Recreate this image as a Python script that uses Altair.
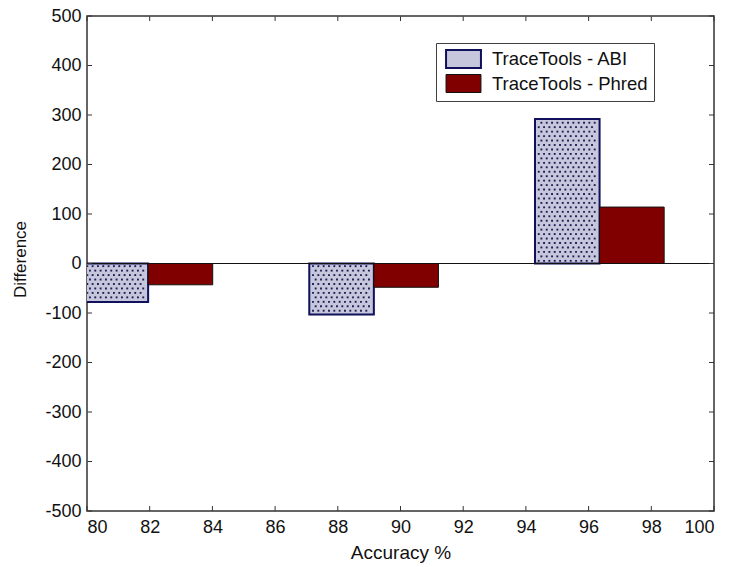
import altair as alt
import pandas as pd

# ---- data ----
accuracy = [81.95, 89.15, 96.35]          # group centres (Accuracy %)
abi_diff = [-78, -103, 292]               # TraceTools - ABI
phred_diff = [-43, -48, 114]              # TraceTools - Phred
series = ["TraceTools - ABI", "TraceTools - Phred"]
x_ticks = [80, 82, 84, 86, 88, 90, 92, 94, 96, 98, 100]
y_ticks = [-500, -400, -300, -200, -100, 0, 100, 200, 300, 400, 500]
bar_width = 2.06                          # width of one bar in Accuracy units

W, H = 627, 495
FONT = "Liberation Sans"
TICK = 5

rows = []
for acc, a, p in zip(accuracy, abi_diff, phred_diff):
    rows.append(dict(series=series[0], x0=acc - bar_width, x1=acc, value=a))
    rows.append(dict(series=series[1], x0=acc, x1=acc + bar_width, value=p))
bars = pd.DataFrame(rows)

# dotted hatch texture for the ABI bars (MATLAB pattern fill)
dx, dy = 0.17, 9.0
tex = []
for r in bars[bars.series == series[0]].itertuples():
    sign = 1 if r.value > 0 else -1
    n = int((abs(r.value) - dy * 0.4) / dy)
    for i in range(n):
        yv = sign * dy * (i + 0.6)
        xv = r.x0 + dx * (0.7 if i % 2 == 0 else 1.2)
        while xv < r.x1 - dx * 0.45:
            tex.append(dict(x0=xv, value=yv))
            xv += dx
texture = pd.DataFrame(tex)

xs = alt.Scale(domain=[80, 100], nice=False, zero=False)
ys = alt.Scale(domain=[-500, 500], nice=False)

x_axis = alt.Axis(
    values=x_ticks, labelExpr="'' + datum.value", tickSize=0, domain=False,
    grid=False, labelPadding=7, title="Accuracy %", titleFontSize=19,
    titleX=W / 2, titleY=47, titleBaseline="alphabetic", titleAlign="center")
y_axis = alt.Axis(
    values=y_ticks, labelExpr="'' + datum.value", tickSize=0, domain=False,
    grid=False, labelPadding=6, title="Difference",
    titleX=-62, titleY=243, titleAngle=270, titleBaseline="alphabetic",
    titleAlign="center", titleFontSize=17)

legend = alt.Legend(
    title=None, orient="none", legendX=349, legendY=27,
    strokeColor="#404040", fillColor="white", padding=6,
    symbolType="M-1.94,-1H1.94V1H-1.94Z", symbolSize=324,
    symbolStrokeWidth=1.5, symbolOffset=11.5, labelOffset=18.5,
    labelFont=FONT, labelFontSize=18.5, labelColor="#111",
    labelExpr="datum.label + '\u00a0\u00a0\u00a0\u00a0'",
    rowPadding=0,
)

bar_layer = alt.Chart(bars).mark_rect(clip=True).encode(
    x=alt.X("x0:Q", scale=xs, axis=x_axis, title="Accuracy %"),
    x2="x1:Q",
    y=alt.Y("value:Q", scale=ys, axis=y_axis, title="Difference"),
    y2=alt.datum(0),
    fill=alt.Fill("series:N", scale=alt.Scale(domain=series, range=["#c6c6dc", "#800000"]), legend=legend),
    stroke=alt.Stroke("series:N", scale=alt.Scale(domain=series, range=["#10105c", "#111111"]), legend=legend),
    strokeWidth=alt.StrokeWidth("series:N", scale=alt.Scale(domain=series, range=[2, 1]), legend=None),
)

dot_layer = alt.Chart(texture).mark_square(size=3.5, color="#1c1c50", opacity=1, clip=True).encode(
    x=alt.X("x0:Q", scale=xs, title="Accuracy %"),
    y=alt.Y("value:Q", scale=ys, title="Difference"),
)

zero_layer = alt.Chart(pd.DataFrame({"value": [0]})).mark_rule(color="#111", strokeWidth=1.2).encode(
    y=alt.Y("value:Q", scale=ys, title="Difference")
)

# inward MATLAB-style tick marks on all four sides
xt = pd.DataFrame({"x0": x_ticks})
yt = pd.DataFrame({"value": y_ticks})
tick_style = dict(color="#333", strokeWidth=1)
t_bottom = alt.Chart(xt).mark_rule(**tick_style).encode(
    x=alt.X("x0:Q", scale=xs, title="Accuracy %"), y=alt.value(H), y2=alt.value(H - TICK))
t_top = alt.Chart(xt).mark_rule(**tick_style).encode(
    x=alt.X("x0:Q", scale=xs, title="Accuracy %"), y=alt.value(0.5), y2=alt.value(TICK))
t_left = alt.Chart(yt).mark_rule(**tick_style).encode(
    y=alt.Y("value:Q", scale=ys, title="Difference"), x=alt.value(0.5), x2=alt.value(TICK))
t_right = alt.Chart(yt).mark_rule(**tick_style).encode(
    y=alt.Y("value:Q", scale=ys, title="Difference"), x=alt.value(W), x2=alt.value(W - TICK))

chart = (
    alt.layer(bar_layer, dot_layer, zero_layer, t_bottom, t_top, t_left, t_right)
    .properties(
        width=W, height=H,
        autosize=alt.AutoSizeParams(type="none"),
        padding={"left": 87, "top": 16, "right": 19, "bottom": 56},
        background="white",
    )
    .configure_view(stroke="#333", strokeWidth=1.5)
    .configure_axis(labelFont=FONT, labelFontSize=18, labelColor="#111",
                    titleFont=FONT, titleFontSize=18, titleFontWeight="normal",
                    titleColor="#111")
)

chart.save("out.html", embed_options={"renderer": "svg", "actions": False})
